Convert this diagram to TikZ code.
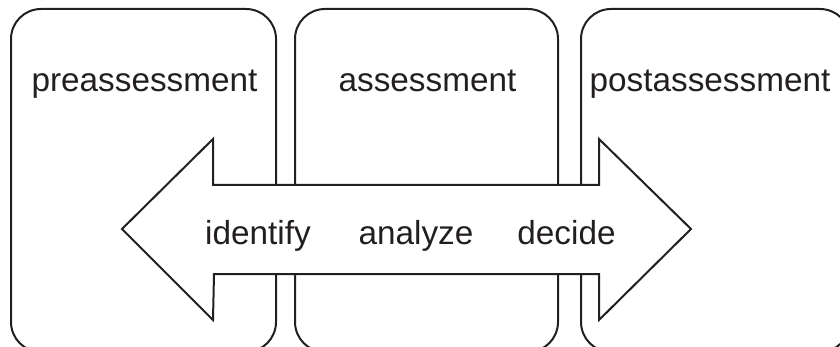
\documentclass[tikz,border=0pt]{standalone}
\usepackage{fontspec}
\setmainfont{Liberation Sans}
\begin{document}
\begin{tikzpicture}[x=1pt,y=-1pt,
  ink/.style={draw=inkc, line width=2pt},
  phasebox/.style={ink, rounded corners=30pt, inner sep=0pt, minimum width=#1, minimum height=343pt},
  lbl/.style={anchor=base, inner sep=0pt, text=inkc, font=\fontsize{33.3}{38}\selectfont},
]
\definecolor{inkc}{HTML}{231F20}
\useasboundingbox (0,0) rectangle (840,347);
\clip (0,0) rectangle (840,347);
\node[phasebox=265pt] (pre)  at (143.5,180.5) {};
\node[phasebox=263pt] (mid)  at (426.5,180.5) {};
\node[phasebox=269pt] (post) at (715.5,180.5) {};
\node[lbl] (tpre)  at (144.5,92) {preassessment};
\node[lbl] (tmid)  at (427.5,92) {assessment};
\node[lbl] (tpost) at (710,92) {postassessment};
\draw[ink, fill=white, line join=miter]
  (122,229) -- (213,139) -- (213,185) -- (599,185) -- (599,139) -- (691,229)
  -- (599,320) -- (599,274) -- (214,274) -- (213,320) -- cycle;
\node[lbl] (tid) at (258,245) {identify};
\node[lbl] (tan) at (416,245) {analyze};
\node[lbl] (tde) at (566.5,245) {decide};
\end{tikzpicture}
\end{document}
